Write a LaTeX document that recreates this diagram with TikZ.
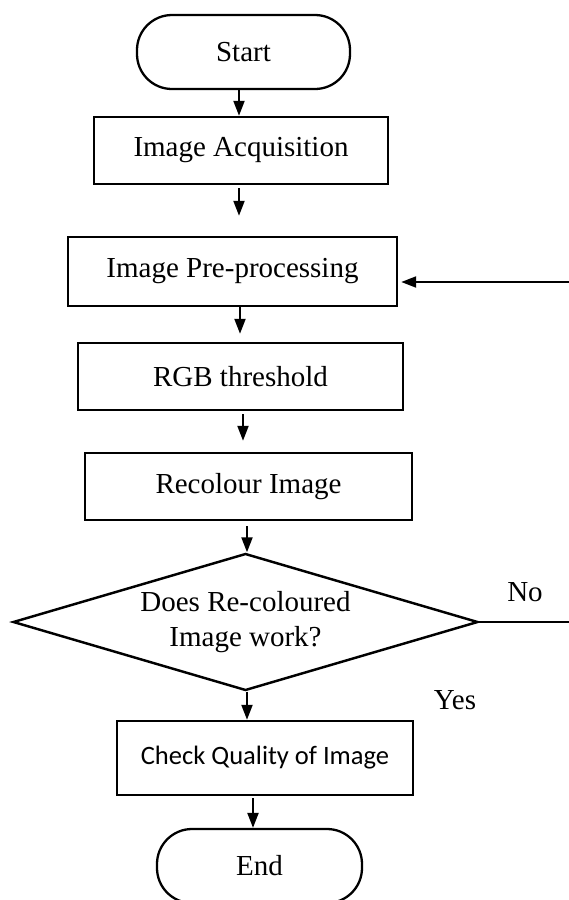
\documentclass[tikz,border=0pt]{standalone}
\usepackage{fontspec}
\setmainfont{Liberation Serif}
\newfontfamily\calib{Carlito}
\usetikzlibrary{arrows.meta,shapes.geometric,calc}
\begin{document}
\begin{tikzpicture}[
  every node/.style={font=\fontsize{16.5pt}{20pt}\selectfont},
  box/.style={draw,line width=1.4pt,inner sep=0pt,rectangle},
  term/.style={draw,line width=1.3pt,inner sep=0pt,rectangle,rounded corners=0.7cm},
  dec/.style={draw,line width=1.4pt,inner sep=0pt,diamond,aspect=3.39,align=center},
  arr/.style={line width=1.2pt,-{Triangle[length=0.3cm,width=0.22cm]}},
  thin/.style={line width=0.6pt}
]
\useasboundingbox (0,0) rectangle (11.38,-18);
\node[term,minimum width=4.26cm,minimum height=1.48cm] (start) at (4.87,-1.04) {Start};
\node[box,minimum width=5.88cm,minimum height=1.34cm] (acq) at (4.82,-3.01) {Image Acquisition};
\node[box,minimum width=6.58cm,minimum height=1.38cm] (pre) at (4.65,-5.43) {Image Pre-processing};
\node[box,minimum width=6.5cm,minimum height=1.34cm] (rgb) at (4.81,-7.53) {RGB threshold};
\node[box,minimum width=6.54cm,minimum height=1.34cm] (rec) at (4.97,-9.73) {Recolour Image};
\node[dec,minimum width=9.3cm,minimum height=2.74cm] (dia) at (4.91,-12.44) {Does Re-coloured\\Image work?};
\node[box,minimum width=5.92cm,minimum height=1.48cm,font=\calib\fontsize{15.1pt}{18pt}\selectfont] (chk) at (5.3,-15.16) {Check Quality of Image};
\node[term,minimum width=4.1cm,minimum height=1.48cm] (end) at (5.19,-17.32) {End};
\node (no) at (10.5,-11.84) {No};
\node (yes) at (9.1,-14.0) {Yes};
\coordinate (a1) at (4.78,0);
\coordinate (a3) at (4.80,0);
\coordinate (a4) at (4.86,0);
\coordinate (a5) at (4.94,0);
\coordinate (a7) at (5.06,0);
\coordinate (fb) at (11.38,-5.64);
\coordinate (noend) at (11.38,-12.44);
\draw[arr] (start.south -| a1) -- (acq.north -| a1);
\draw[arr,shorten <=0.06cm,shorten >=0.4cm] (acq.south -| a1) -- (pre.north -| a1);
\draw[arr,shorten >=0.16cm] (pre.south -| a3) -- (rgb.north -| a3);
\draw[arr,shorten <=0.06cm,shorten >=0.22cm] (rgb.south -| a4) -- (rec.north -| a4);
\draw[arr,shorten <=0.1cm] (rec.south -| a5) -- (dia.north -| a5);
\draw[arr] (dia.south -| a5) -- (chk.north -| a5);
\draw[arr,shorten <=0.04cm] (chk.south -| a7) -- (end.north -| a7);
\draw[arr,shorten >=0.06cm] (fb) -- (pre.east |- fb);
\draw[thin] (dia.east) -- (noend);
\end{tikzpicture}
\end{document}
